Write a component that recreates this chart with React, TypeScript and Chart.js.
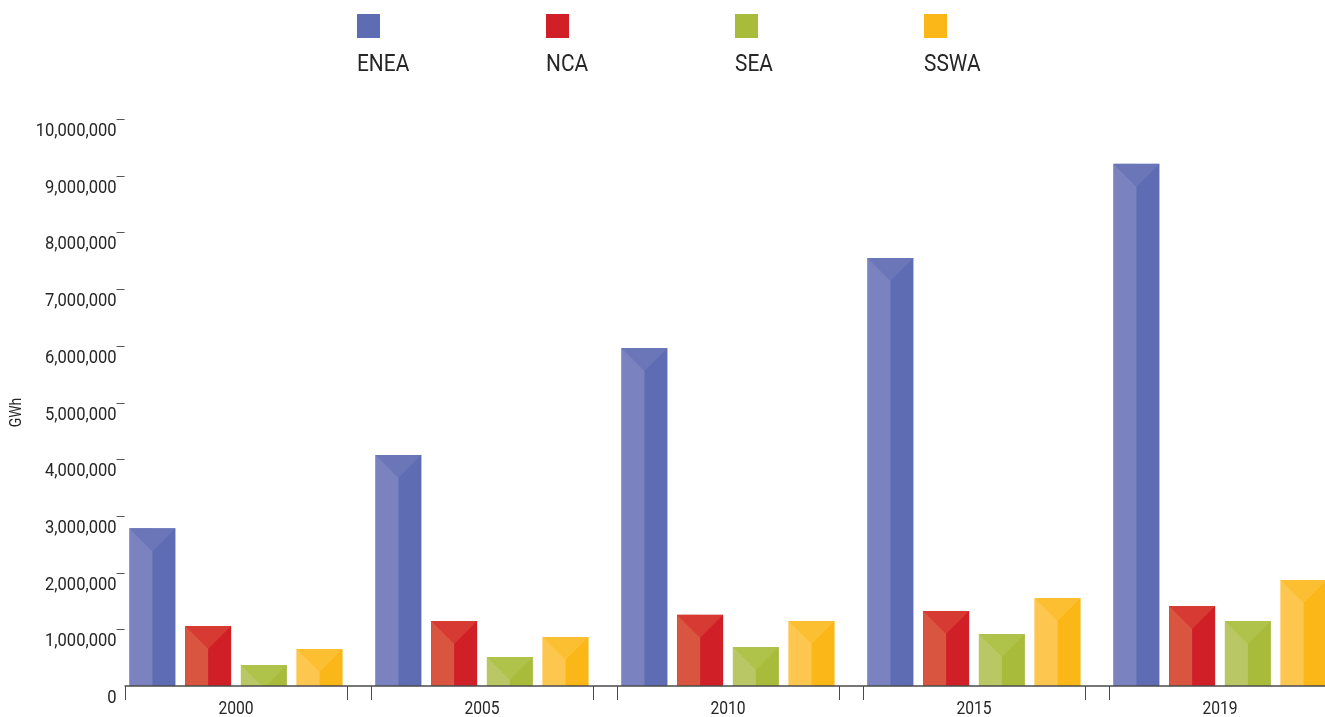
import React, { useEffect, useRef } from "react";
import { Chart, registerables } from "chart.js";

Chart.register(...registerables);

// Electricity generation by sub-region (GWh)
const years = ["2000", "2005", "2010", "2015", "2019"];
const seriesNames = ["ENEA", "NCA", "SEA", "SSWA"];
const eneaValues = [2780000, 4075000, 5960000, 7550000, 9210000];
const ncaValues = [1058000, 1146000, 1258000, 1323000, 1411000];
const seaValues = [370000, 511000, 688000, 917000, 1146000];
const sswaValues = [653000, 864000, 1146000, 1552000, 1870000];
const yTickValues = [0, 1000000, 2000000, 3000000, 4000000, 5000000, 6000000, 7000000, 8000000, 9000000, 10000000];
const yAxisTitle = "GWh";

// Each bar is painted in three tones: darker right face, lighter left face, and a mid-tone cap.
const baseColors = ["#5e6db3", "#d01f26", "#a8bb3a", "#fbb617"];
const lightColors = ["#7a82bf", "#da553f", "#b9c864", "#fdc64f"];
const capColors = ["#6b76b9", "#d63a32", "#afc24a", "#fdbf32"];

const FONT = "Roboto, 'Noto Sans', sans-serif";
const TEXT_COLOR = "#262626";
const AXIS_COLOR = "#4a4a4a";
const CATEGORY_PCT = 0.906;
const BAR_PCT = 0.826;
const CONDENSE = 0.87;

// Draws text narrowed horizontally for a condensed look.
function condensedText(ctx: CanvasRenderingContext2D, text: string, x: number, y: number) {
  ctx.save();
  ctx.translate(x, y);
  ctx.scale(CONDENSE, 1);
  ctx.fillText(text, 0, 0);
  ctx.restore();
}

const prismBars = {
  id: "prismBars",
  afterDatasetsDraw(chart: any) {
    const ctx = chart.ctx;
    chart.data.datasets.forEach((ds: any, di: number) => {
      const meta = chart.getDatasetMeta(di);
      meta.data.forEach((bar: any) => {
        const { x, y, base, width } = bar.getProps(["x", "y", "base", "width"], true);
        const left = x - width / 2;
        const right = x + width / 2;
        const h = base - y;
        ctx.save();
        ctx.beginPath();
        ctx.rect(left, y, width, h);
        ctx.clip();
        ctx.fillStyle = lightColors[di];
        ctx.fillRect(left, y, width / 2, h);
        ctx.beginPath();
        ctx.moveTo(left, y);
        ctx.lineTo(right, y);
        ctx.lineTo(x, y + width / 2);
        ctx.closePath();
        ctx.fillStyle = capColors[di];
        ctx.fill();
        ctx.restore();
      });
    });
  },
};

const axesAndLegend = {
  id: "axesAndLegend",
  afterDraw(chart: any) {
    const ctx = chart.ctx;
    const xs = chart.scales.x;
    const ys = chart.scales.y;
    const area = chart.chartArea;
    const y0 = ys.getPixelForValue(0);
    const c0 = xs.getPixelForValue(0);
    const c1 = xs.getPixelForValue(1);
    const catW = c1 - c0;
    const groupHalf = (catW * CATEGORY_PCT) / 2;
    const axisStart = c0 - groupHalf;

    ctx.save();

    // y-axis tick marks and labels (labels hang just below their tick)
    ctx.font = `19px ${FONT}`;
    ctx.fillStyle = TEXT_COLOR;
    ctx.textAlign = "right";
    ctx.textBaseline = "middle";
    yTickValues.forEach((v) => {
      const py = Math.round(ys.getPixelForValue(v)) + 0.5;
      if (v !== 0) {
        ctx.strokeStyle = "#555";
        ctx.lineWidth = 1;
        ctx.beginPath();
        ctx.moveTo(axisStart - 8, py);
        ctx.lineTo(axisStart, py);
        ctx.stroke();
      }
      condensedText(ctx, v.toLocaleString("en-US"), axisStart - 8, py + 12);
    });

    // x-axis baseline
    ctx.strokeStyle = AXIS_COLOR;
    ctx.lineWidth = 1.5;
    ctx.beginPath();
    ctx.moveTo(axisStart, y0);
    ctx.lineTo(area.right, y0);
    ctx.stroke();

    // group edge ticks and category labels
    ctx.lineWidth = 1;
    ctx.font = `18px ${FONT}`;
    ctx.textAlign = "center";
    years.forEach((label, i) => {
      const cx = xs.getPixelForValue(i);
      [cx - groupHalf, cx + groupHalf].forEach((tx) => {
        const px = Math.round(tx) + 0.5;
        ctx.beginPath();
        ctx.moveTo(px, y0);
        ctx.lineTo(px, y0 + 14);
        ctx.stroke();
      });
      condensedText(ctx, label, cx, y0 + 23);
    });

    // axis title
    ctx.save();
    ctx.translate(17, (area.top + area.bottom) / 2 + 10);
    ctx.rotate(-Math.PI / 2);
    ctx.font = `16px ${FONT}`;
    ctx.textAlign = "center";
    ctx.textBaseline = "middle";
    condensedText(ctx, yAxisTitle, 0, 0);
    ctx.restore();

    // legend: swatch above each series name
    const legendX = [357, 546, 735, 924];
    ctx.font = `24px ${FONT}`;
    ctx.textAlign = "left";
    ctx.textBaseline = "alphabetic";
    seriesNames.forEach((name, i) => {
      ctx.fillStyle = baseColors[i];
      ctx.fillRect(legendX[i], 14, 23, 24);
      ctx.fillStyle = TEXT_COLOR;
      condensedText(ctx, name, legendX[i], 71);
    });

    ctx.restore();
  },
};

export default function App() {
  const canvasRef = useRef<HTMLCanvasElement | null>(null);

  useEffect(() => {
    const canvas = canvasRef.current;
    if (!canvas) return;
    const seriesValues = [eneaValues, ncaValues, seaValues, sswaValues];
    const chart = new Chart(canvas, {
      type: "bar",
      data: {
        labels: years,
        datasets: seriesNames.map((name, i) => ({
          label: name,
          data: seriesValues[i],
          backgroundColor: baseColors[i],
          borderWidth: 0,
          categoryPercentage: CATEGORY_PCT,
          barPercentage: BAR_PCT,
        })),
      },
      options: {
        responsive: false,
        animation: false,
        devicePixelRatio: 1,
        layout: { padding: { left: 113, right: 2, top: 119, bottom: 31 } },
        plugins: { legend: { display: false }, tooltip: { enabled: false } },
        scales: {
          x: { display: false, offset: true },
          y: { display: false, min: 0, max: 10000000 },
        },
      },
      plugins: [prismBars, axesAndLegend],
    });
    return () => chart.destroy();
  }, []);

  return (
    <div
      style={{
        position: "fixed",
        left: 0,
        top: 0,
        width: 1325,
        height: 717,
        overflow: "hidden",
        background: "#fff",
      }}
    >
      <canvas ref={canvasRef} width={1345} height={717} style={{ width: 1345, height: 717, display: "block" }} />
    </div>
  );
}
